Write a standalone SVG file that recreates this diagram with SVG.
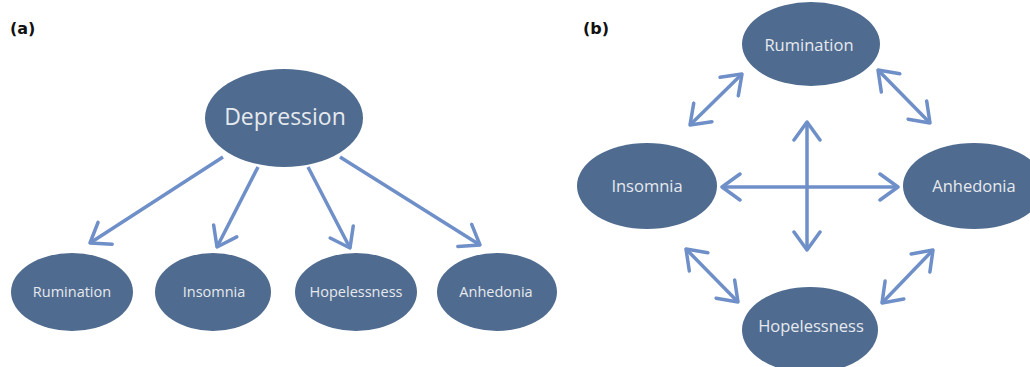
<svg xmlns="http://www.w3.org/2000/svg" width="1030" height="367" viewBox="0 0 1030 367">
<style>
.node ellipse { fill: #4f6b8f; }
.node text { fill: #e6e9ee; font-family: "Open Sans", "Liberation Sans", sans-serif; text-anchor: middle; }
.sm text { font-size: 14.5px; }
.md text { font-size: 16.5px; }
.lg text { font-size: 23px; }
.conn line { stroke: #6f8fc8; stroke-width: 3.5; fill: none; marker-end: url(#ah); }
.conn line.both { marker-start: url(#ah); }
.lbl { font-family: "DejaVu Sans", "Liberation Sans", sans-serif; font-weight: bold; font-size: 16px; fill: #111; }
</style>
<defs>
<marker id="ah" viewBox="-21 -15 23 30" refX="0" refY="0" markerWidth="23" markerHeight="30" markerUnits="userSpaceOnUse" orient="auto-start-reverse">
<path d="M-18,-13 L0,0 L-18,13" fill="none" stroke="#6f8fc8" stroke-width="3.5" stroke-linecap="round" stroke-linejoin="round"/>
</marker>
</defs>
<rect width="1030" height="367" fill="#ffffff"/>
<text class="lbl" x="10" y="34">(a)</text>
<text class="lbl" x="583" y="34">(b)</text>

<g id="connectors" class="conn">
<line x1="223" y1="157" x2="90" y2="243"/>
<line x1="258" y1="167" x2="217" y2="247"/>
<line x1="308" y1="167" x2="350" y2="248"/>
<line x1="340" y1="157" x2="480" y2="245"/>
<line class="both" x1="690" y1="125" x2="742" y2="74"/>
<line class="both" x1="878" y1="70" x2="930" y2="123"/>
<line class="both" x1="807" y1="250" x2="807" y2="122"/>
<line class="both" x1="722" y1="187" x2="898" y2="187"/>
<line class="both" x1="686" y1="249" x2="738" y2="302"/>
<line class="both" x1="933" y1="250" x2="882" y2="303"/>
</g>

<g id="a-depression" class="node lg"><ellipse cx="284" cy="118" rx="79" ry="49"/><text x="285" y="125">Depression</text></g>
<g id="a-rumination" class="node sm"><ellipse cx="72" cy="292" rx="61" ry="39"/><text x="72" y="297">Rumination</text></g>
<g id="a-insomnia" class="node sm"><ellipse cx="213" cy="292" rx="58" ry="39"/><text x="214" y="297">Insomnia</text></g>
<g id="a-hopelessness" class="node sm"><ellipse cx="356" cy="292" rx="61" ry="39"/><text x="356" y="297">Hopelessness</text></g>
<g id="a-anhedonia" class="node sm"><ellipse cx="497" cy="292" rx="60" ry="39"/><text x="496" y="297">Anhedonia</text></g>

<g id="b-rumination" class="node md"><ellipse cx="811" cy="44" rx="69" ry="42"/><text x="809" y="51">Rumination</text></g>
<g id="b-insomnia" class="node md"><ellipse cx="647" cy="186" rx="70" ry="43"/><text x="647" y="192">Insomnia</text></g>
<g id="b-anhedonia" class="node md"><ellipse cx="974" cy="186" rx="71" ry="43"/><text x="974" y="192">Anhedonia</text></g>
<g id="b-hopelessness" class="node md"><ellipse cx="810" cy="330" rx="68" ry="43"/><text x="811" y="332">Hopelessness</text></g>
</svg>
